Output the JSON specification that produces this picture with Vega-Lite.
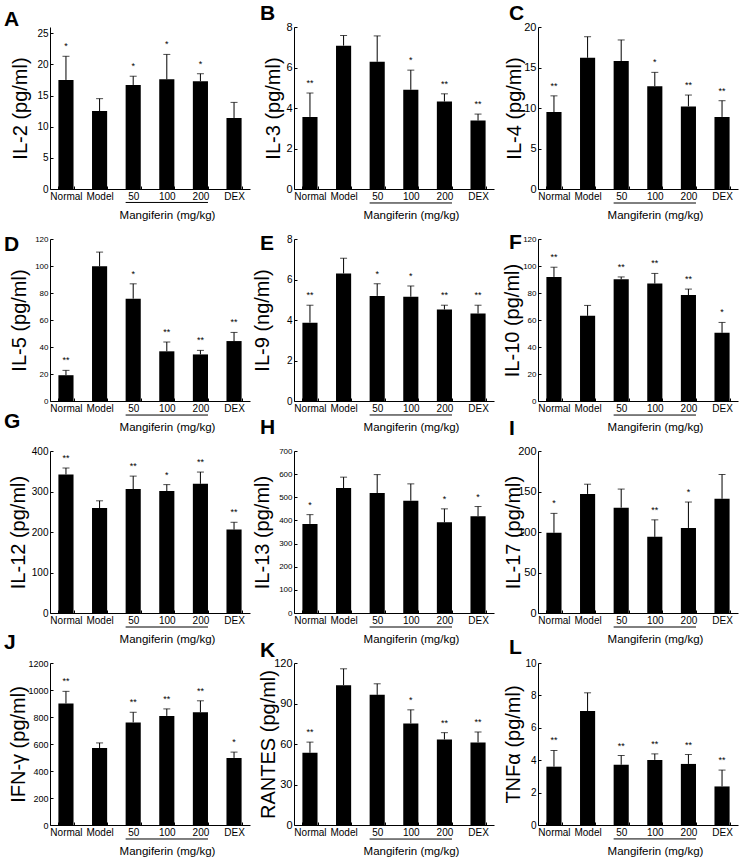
{
"$schema": "https://vega.github.io/schema/vega-lite/v6.json",
"padding": {"left": 4, "top": 3, "right": 5, "bottom": 3},
"background": "white",
"data": {"values": [
{"p":"A","g":"Normal","v":17.5,"hi":21.3,"s":"*"},
{"p":"A","g":"Model","v":12.5,"hi":14.5,"s":""},
{"p":"A","g":"50","v":16.7,"hi":18.1,"s":"*"},
{"p":"A","g":"100","v":17.6,"hi":21.6,"s":"*"},
{"p":"A","g":"200","v":17.3,"hi":18.5,"s":"*"},
{"p":"A","g":"DEX","v":11.4,"hi":13.9,"s":""},
{"p":"B","g":"Normal","v":3.56,"hi":4.74,"s":"**"},
{"p":"B","g":"Model","v":7.08,"hi":7.58,"s":""},
{"p":"B","g":"50","v":6.28,"hi":7.56,"s":""},
{"p":"B","g":"100","v":4.9,"hi":5.87,"s":"*"},
{"p":"B","g":"200","v":4.32,"hi":4.7,"s":"**"},
{"p":"B","g":"DEX","v":3.38,"hi":3.7,"s":"**"},
{"p":"C","g":"Normal","v":9.5,"hi":11.5,"s":"**"},
{"p":"C","g":"Model","v":16.2,"hi":18.8,"s":""},
{"p":"C","g":"50","v":15.8,"hi":18.4,"s":""},
{"p":"C","g":"100","v":12.7,"hi":14.4,"s":"*"},
{"p":"C","g":"200","v":10.2,"hi":11.6,"s":"**"},
{"p":"C","g":"DEX","v":8.9,"hi":10.9,"s":"**"},
{"p":"D","g":"Normal","v":19.1,"hi":22.7,"s":"**"},
{"p":"D","g":"Model","v":99.8,"hi":110.3,"s":""},
{"p":"D","g":"50","v":75.8,"hi":86.8,"s":"*"},
{"p":"D","g":"100","v":36.8,"hi":43.7,"s":"**"},
{"p":"D","g":"200","v":34.5,"hi":37.5,"s":"**"},
{"p":"D","g":"DEX","v":44.4,"hi":50.8,"s":"**"},
{"p":"E","g":"Normal","v":3.87,"hi":4.73,"s":"**"},
{"p":"E","g":"Model","v":6.3,"hi":7.05,"s":""},
{"p":"E","g":"50","v":5.19,"hi":5.79,"s":"*"},
{"p":"E","g":"100","v":5.15,"hi":5.68,"s":"*"},
{"p":"E","g":"200","v":4.52,"hi":4.73,"s":"**"},
{"p":"E","g":"DEX","v":4.32,"hi":4.73,"s":"**"},
{"p":"F","g":"Normal","v":91.9,"hi":99.1,"s":"**"},
{"p":"F","g":"Model","v":63.1,"hi":70.8,"s":""},
{"p":"F","g":"50","v":90.1,"hi":91.9,"s":"**"},
{"p":"F","g":"100","v":87.0,"hi":94.5,"s":"**"},
{"p":"F","g":"200","v":78.5,"hi":82.9,"s":"**"},
{"p":"F","g":"DEX","v":50.5,"hi":58.2,"s":"*"},
{"p":"G","g":"Normal","v":342,"hi":358,"s":"**"},
{"p":"G","g":"Model","v":259,"hi":277,"s":""},
{"p":"G","g":"50","v":306,"hi":338,"s":"**"},
{"p":"G","g":"100","v":301,"hi":317,"s":"*"},
{"p":"G","g":"200","v":319,"hi":348,"s":"**"},
{"p":"G","g":"DEX","v":206,"hi":224,"s":"**"},
{"p":"H","g":"Normal","v":385,"hi":425,"s":"*"},
{"p":"H","g":"Model","v":540,"hi":587,"s":""},
{"p":"H","g":"50","v":518,"hi":598,"s":""},
{"p":"H","g":"100","v":485,"hi":558,"s":""},
{"p":"H","g":"200","v":392,"hi":450,"s":"*"},
{"p":"H","g":"DEX","v":418,"hi":460,"s":"*"},
{"p":"I","g":"Normal","v":99,"hi":123,"s":"*"},
{"p":"I","g":"Model","v":147,"hi":159,"s":""},
{"p":"I","g":"50","v":130,"hi":153,"s":""},
{"p":"I","g":"100","v":94,"hi":115,"s":"**"},
{"p":"I","g":"200","v":105,"hi":137,"s":"*"},
{"p":"I","g":"DEX","v":141,"hi":171,"s":""},
{"p":"J","g":"Normal","v":900,"hi":990,"s":"**"},
{"p":"J","g":"Model","v":570,"hi":608,"s":""},
{"p":"J","g":"50","v":760,"hi":835,"s":"**"},
{"p":"J","g":"100","v":808,"hi":860,"s":"**"},
{"p":"J","g":"200","v":835,"hi":920,"s":"**"},
{"p":"J","g":"DEX","v":497,"hi":540,"s":"*"},
{"p":"K","g":"Normal","v":53.5,"hi":61.4,"s":"**"},
{"p":"K","g":"Model","v":103.6,"hi":115.7,"s":""},
{"p":"K","g":"50","v":96.4,"hi":104.6,"s":""},
{"p":"K","g":"100","v":75.2,"hi":85.3,"s":"*"},
{"p":"K","g":"200","v":63.4,"hi":68.4,"s":"**"},
{"p":"K","g":"DEX","v":61.2,"hi":68.9,"s":"**"},
{"p":"L","g":"Normal","v":3.6,"hi":4.6,"s":"**"},
{"p":"L","g":"Model","v":7.03,"hi":8.16,"s":""},
{"p":"L","g":"50","v":3.72,"hi":4.29,"s":"**"},
{"p":"L","g":"100","v":4.02,"hi":4.39,"s":"**"},
{"p":"L","g":"200","v":3.77,"hi":4.35,"s":"**"},
{"p":"L","g":"DEX","v":2.38,"hi":3.39,"s":"**"}
]},
"columns": 3,
"bounds": "flush",
"spacing": {"column": 44, "row": 50},
"concat": [
{"title": {"text": "A", "dx": -46, "dy": 7}, "width": 200, "height": 162,
 "transform": [{"filter": "datum.p === 'A'"}],
 "encoding": {"x": {"field": "g", "type": "nominal", "scale": {"domain": ["Normal","Model","50","100","200","DEX"], "paddingInner": 0.55, "paddingOuter": 0.25}, "axis": {"title": "Mangiferin (mg/kg)", "titleX": 117}}},
 "layer": [
  {"mark": {"type": "bar", "color": "black"}, "encoding": {"y": {"field": "v", "type": "quantitative", "scale": {"domain": [0, 25]}, "axis": {"title": "IL-2 (pg/ml)", "values": [0,5,10,15,20,25], "tickCount": 20, "labelOverlap": false, "titleX": -20, "labelFontSize": 10}}}},
  {"mark": {"type": "rule", "color": "black"}, "encoding": {"y": {"field": "v", "type": "quantitative"}, "y2": {"field": "hi"}}},
  {"mark": {"type": "tick", "color": "black", "size": 7, "thickness": 1}, "encoding": {"y": {"field": "hi", "type": "quantitative"}}},
  {"mark": {"type": "text", "baseline": "bottom", "dy": -5, "fontSize": 9, "color": "black"}, "encoding": {"y": {"field": "hi", "type": "quantitative"}, "text": {"field": "s"}}},
  {"transform": [{"filter": "datum.g === '50'"}], "mark": {"type": "rule", "color": "black"}, "encoding": {"x": {"datum": "50", "bandPosition": 0}, "x2": {"datum": "200", "bandPosition": 1}, "y": {"datum": -2.16}}}
 ]},
{"title": {"text": "B", "dx": -34, "dy": 7}, "width": 200, "height": 162,
 "transform": [{"filter": "datum.p === 'B'"}],
 "encoding": {"x": {"field": "g", "type": "nominal", "scale": {"domain": ["Normal","Model","50","100","200","DEX"], "paddingInner": 0.55, "paddingOuter": 0.25}, "axis": {"title": "Mangiferin (mg/kg)", "titleX": 117}}},
 "layer": [
  {"mark": {"type": "bar", "color": "black"}, "encoding": {"y": {"field": "v", "type": "quantitative", "scale": {"domain": [0, 8]}, "axis": {"title": "IL-3 (pg/ml)", "values": [0,2,4,6,8], "tickCount": 20, "labelOverlap": false, "titleX": -11, "labelFontSize": 11}}}},
  {"mark": {"type": "rule", "color": "black"}, "encoding": {"y": {"field": "v", "type": "quantitative"}, "y2": {"field": "hi"}}},
  {"mark": {"type": "tick", "color": "black", "size": 7, "thickness": 1}, "encoding": {"y": {"field": "hi", "type": "quantitative"}}},
  {"mark": {"type": "text", "baseline": "bottom", "dy": -5, "fontSize": 9, "color": "black"}, "encoding": {"y": {"field": "hi", "type": "quantitative"}, "text": {"field": "s"}}},
  {"transform": [{"filter": "datum.g === '50'"}], "mark": {"type": "rule", "color": "black"}, "encoding": {"x": {"datum": "50", "bandPosition": 0}, "x2": {"datum": "200", "bandPosition": 1}, "y": {"datum": -0.69}}}
 ]},
{"title": {"text": "C", "dx": -29, "dy": 7}, "width": 200, "height": 162,
 "transform": [{"filter": "datum.p === 'C'"}],
 "encoding": {"x": {"field": "g", "type": "nominal", "scale": {"domain": ["Normal","Model","50","100","200","DEX"], "paddingInner": 0.55, "paddingOuter": 0.25}, "axis": {"title": "Mangiferin (mg/kg)", "titleX": 117}}},
 "layer": [
  {"mark": {"type": "bar", "color": "black"}, "encoding": {"y": {"field": "v", "type": "quantitative", "scale": {"domain": [0, 20]}, "axis": {"title": "IL-4 (pg/ml)", "values": [0,5,10,15,20], "tickCount": 20, "labelOverlap": false, "titleX": -14, "labelFontSize": 11}}}},
  {"mark": {"type": "rule", "color": "black"}, "encoding": {"y": {"field": "v", "type": "quantitative"}, "y2": {"field": "hi"}}},
  {"mark": {"type": "tick", "color": "black", "size": 7, "thickness": 1}, "encoding": {"y": {"field": "hi", "type": "quantitative"}}},
  {"mark": {"type": "text", "baseline": "bottom", "dy": -5, "fontSize": 9, "color": "black"}, "encoding": {"y": {"field": "hi", "type": "quantitative"}, "text": {"field": "s"}}},
  {"transform": [{"filter": "datum.g === '50'"}], "mark": {"type": "rule", "color": "black"}, "encoding": {"x": {"datum": "50", "bandPosition": 0}, "x2": {"datum": "200", "bandPosition": 1}, "y": {"datum": -1.73}}}
 ]},
{"title": {"text": "D", "dx": -46, "dy": 24}, "width": 200, "height": 162,
 "transform": [{"filter": "datum.p === 'D'"}],
 "encoding": {"x": {"field": "g", "type": "nominal", "scale": {"domain": ["Normal","Model","50","100","200","DEX"], "paddingInner": 0.55, "paddingOuter": 0.25}, "axis": {"title": "Mangiferin (mg/kg)", "titleX": 117}}},
 "layer": [
  {"mark": {"type": "bar", "color": "black"}, "encoding": {"y": {"field": "v", "type": "quantitative", "scale": {"domain": [0, 120]}, "axis": {"title": "IL-5 (pg/ml)", "values": [0,20,40,60,80,100,120], "tickCount": 20, "labelOverlap": false, "titleX": -21, "labelFontSize": 8}}}},
  {"mark": {"type": "rule", "color": "black"}, "encoding": {"y": {"field": "v", "type": "quantitative"}, "y2": {"field": "hi"}}},
  {"mark": {"type": "tick", "color": "black", "size": 7, "thickness": 1}, "encoding": {"y": {"field": "hi", "type": "quantitative"}}},
  {"mark": {"type": "text", "baseline": "bottom", "dy": -5, "fontSize": 9, "color": "black"}, "encoding": {"y": {"field": "hi", "type": "quantitative"}, "text": {"field": "s"}}},
  {"transform": [{"filter": "datum.g === '50'"}], "mark": {"type": "rule", "color": "black"}, "encoding": {"x": {"datum": "50", "bandPosition": 0}, "x2": {"datum": "200", "bandPosition": 1}, "y": {"datum": -10.4}}}
 ]},
{"title": {"text": "E", "dx": -34, "dy": 24}, "width": 200, "height": 162,
 "transform": [{"filter": "datum.p === 'E'"}],
 "encoding": {"x": {"field": "g", "type": "nominal", "scale": {"domain": ["Normal","Model","50","100","200","DEX"], "paddingInner": 0.55, "paddingOuter": 0.25}, "axis": {"title": "Mangiferin (mg/kg)", "titleX": 117}}},
 "layer": [
  {"mark": {"type": "bar", "color": "black"}, "encoding": {"y": {"field": "v", "type": "quantitative", "scale": {"domain": [0, 8]}, "axis": {"title": "IL-9 (ng/ml)", "values": [0,2,4,6,8], "tickCount": 20, "labelOverlap": false, "titleX": -22, "labelFontSize": 10}}}},
  {"mark": {"type": "rule", "color": "black"}, "encoding": {"y": {"field": "v", "type": "quantitative"}, "y2": {"field": "hi"}}},
  {"mark": {"type": "tick", "color": "black", "size": 7, "thickness": 1}, "encoding": {"y": {"field": "hi", "type": "quantitative"}}},
  {"mark": {"type": "text", "baseline": "bottom", "dy": -5, "fontSize": 9, "color": "black"}, "encoding": {"y": {"field": "hi", "type": "quantitative"}, "text": {"field": "s"}}},
  {"transform": [{"filter": "datum.g === '50'"}], "mark": {"type": "rule", "color": "black"}, "encoding": {"x": {"datum": "50", "bandPosition": 0}, "x2": {"datum": "200", "bandPosition": 1}, "y": {"datum": -0.69}}}
 ]},
{"title": {"text": "F", "dx": -29, "dy": 22}, "width": 200, "height": 162,
 "transform": [{"filter": "datum.p === 'F'"}],
 "encoding": {"x": {"field": "g", "type": "nominal", "scale": {"domain": ["Normal","Model","50","100","200","DEX"], "paddingInner": 0.55, "paddingOuter": 0.25}, "axis": {"title": "Mangiferin (mg/kg)", "titleX": 117}}},
 "layer": [
  {"mark": {"type": "bar", "color": "black"}, "encoding": {"y": {"field": "v", "type": "quantitative", "scale": {"domain": [0, 120]}, "axis": {"title": "IL-10 (pg/ml)", "values": [0,20,40,60,80,100,120], "tickCount": 20, "labelOverlap": false, "titleX": -16, "labelFontSize": 8}}}},
  {"mark": {"type": "rule", "color": "black"}, "encoding": {"y": {"field": "v", "type": "quantitative"}, "y2": {"field": "hi"}}},
  {"mark": {"type": "tick", "color": "black", "size": 7, "thickness": 1}, "encoding": {"y": {"field": "hi", "type": "quantitative"}}},
  {"mark": {"type": "text", "baseline": "bottom", "dy": -5, "fontSize": 9, "color": "black"}, "encoding": {"y": {"field": "hi", "type": "quantitative"}, "text": {"field": "s"}}},
  {"transform": [{"filter": "datum.g === '50'"}], "mark": {"type": "rule", "color": "black"}, "encoding": {"x": {"datum": "50", "bandPosition": 0}, "x2": {"datum": "200", "bandPosition": 1}, "y": {"datum": -10.4}}}
 ]},
{"title": {"text": "G", "dx": -46, "dy": -10}, "width": 200, "height": 162,
 "transform": [{"filter": "datum.p === 'G'"}],
 "encoding": {"x": {"field": "g", "type": "nominal", "scale": {"domain": ["Normal","Model","50","100","200","DEX"], "paddingInner": 0.55, "paddingOuter": 0.25}, "axis": {"title": "Mangiferin (mg/kg)", "titleX": 117}}},
 "layer": [
  {"mark": {"type": "bar", "color": "black"}, "encoding": {"y": {"field": "v", "type": "quantitative", "scale": {"domain": [0, 400]}, "axis": {"title": "IL-12 (pg/ml)", "values": [0,100,200,300,400], "tickCount": 20, "labelOverlap": false, "titleX": -22, "labelFontSize": 10}}}},
  {"mark": {"type": "rule", "color": "black"}, "encoding": {"y": {"field": "v", "type": "quantitative"}, "y2": {"field": "hi"}}},
  {"mark": {"type": "tick", "color": "black", "size": 7, "thickness": 1}, "encoding": {"y": {"field": "hi", "type": "quantitative"}}},
  {"mark": {"type": "text", "baseline": "bottom", "dy": -5, "fontSize": 9, "color": "black"}, "encoding": {"y": {"field": "hi", "type": "quantitative"}, "text": {"field": "s"}}},
  {"transform": [{"filter": "datum.g === '50'"}], "mark": {"type": "rule", "color": "black"}, "encoding": {"x": {"datum": "50", "bandPosition": 0}, "x2": {"datum": "200", "bandPosition": 1}, "y": {"datum": -34.6}}}
 ]},
{"title": {"text": "H", "dx": -34, "dy": -5}, "width": 200, "height": 162,
 "transform": [{"filter": "datum.p === 'H'"}],
 "encoding": {"x": {"field": "g", "type": "nominal", "scale": {"domain": ["Normal","Model","50","100","200","DEX"], "paddingInner": 0.55, "paddingOuter": 0.25}, "axis": {"title": "Mangiferin (mg/kg)", "titleX": 117}}},
 "layer": [
  {"mark": {"type": "bar", "color": "black"}, "encoding": {"y": {"field": "v", "type": "quantitative", "scale": {"domain": [0, 700]}, "axis": {"title": "IL-13 (pg/ml)", "values": [0,100,200,300,400,500,600,700], "tickCount": 20, "labelOverlap": false, "titleX": -22, "labelFontSize": 8}}}},
  {"mark": {"type": "rule", "color": "black"}, "encoding": {"y": {"field": "v", "type": "quantitative"}, "y2": {"field": "hi"}}},
  {"mark": {"type": "tick", "color": "black", "size": 7, "thickness": 1}, "encoding": {"y": {"field": "hi", "type": "quantitative"}}},
  {"mark": {"type": "text", "baseline": "bottom", "dy": -5, "fontSize": 9, "color": "black"}, "encoding": {"y": {"field": "hi", "type": "quantitative"}, "text": {"field": "s"}}},
  {"transform": [{"filter": "datum.g === '50'"}], "mark": {"type": "rule", "color": "black"}, "encoding": {"x": {"datum": "50", "bandPosition": 0}, "x2": {"datum": "200", "bandPosition": 1}, "y": {"datum": -60.5}}}
 ]},
{"title": {"text": "I", "dx": -29, "dy": -2}, "width": 200, "height": 162,
 "transform": [{"filter": "datum.p === 'I'"}],
 "encoding": {"x": {"field": "g", "type": "nominal", "scale": {"domain": ["Normal","Model","50","100","200","DEX"], "paddingInner": 0.55, "paddingOuter": 0.25}, "axis": {"title": "Mangiferin (mg/kg)", "titleX": 117}}},
 "layer": [
  {"mark": {"type": "bar", "color": "black"}, "encoding": {"y": {"field": "v", "type": "quantitative", "scale": {"domain": [0, 200]}, "axis": {"title": "IL-17 (pg/ml)", "values": [0,50,100,150,200], "tickCount": 20, "labelOverlap": false, "titleX": -15, "labelFontSize": 11}}}},
  {"mark": {"type": "rule", "color": "black"}, "encoding": {"y": {"field": "v", "type": "quantitative"}, "y2": {"field": "hi"}}},
  {"mark": {"type": "tick", "color": "black", "size": 7, "thickness": 1}, "encoding": {"y": {"field": "hi", "type": "quantitative"}}},
  {"mark": {"type": "text", "baseline": "bottom", "dy": -5, "fontSize": 9, "color": "black"}, "encoding": {"y": {"field": "hi", "type": "quantitative"}, "text": {"field": "s"}}},
  {"transform": [{"filter": "datum.g === '50'"}], "mark": {"type": "rule", "color": "black"}, "encoding": {"x": {"datum": "50", "bandPosition": 0}, "x2": {"datum": "200", "bandPosition": 1}, "y": {"datum": -17.3}}}
 ]},
{"title": {"text": "J", "dx": -46, "dy": -2}, "width": 200, "height": 162,
 "transform": [{"filter": "datum.p === 'J'"}],
 "encoding": {"x": {"field": "g", "type": "nominal", "scale": {"domain": ["Normal","Model","50","100","200","DEX"], "paddingInner": 0.55, "paddingOuter": 0.25}, "axis": {"title": "Mangiferin (mg/kg)", "titleX": 117}}},
 "layer": [
  {"mark": {"type": "bar", "color": "black"}, "encoding": {"y": {"field": "v", "type": "quantitative", "scale": {"domain": [0, 1200]}, "axis": {"title": "IFN-γ (pg/ml)", "values": [0,200,400,600,800,1000,1200], "tickCount": 20, "labelOverlap": false, "titleX": -22, "labelFontSize": 9}}}},
  {"mark": {"type": "rule", "color": "black"}, "encoding": {"y": {"field": "v", "type": "quantitative"}, "y2": {"field": "hi"}}},
  {"mark": {"type": "tick", "color": "black", "size": 7, "thickness": 1}, "encoding": {"y": {"field": "hi", "type": "quantitative"}}},
  {"mark": {"type": "text", "baseline": "bottom", "dy": -5, "fontSize": 9, "color": "black"}, "encoding": {"y": {"field": "hi", "type": "quantitative"}, "text": {"field": "s"}}},
  {"transform": [{"filter": "datum.g === '50'"}], "mark": {"type": "rule", "color": "black"}, "encoding": {"x": {"datum": "50", "bandPosition": 0}, "x2": {"datum": "200", "bandPosition": 1}, "y": {"datum": -103.7}}}
 ]},
{"title": {"text": "K", "dx": -34, "dy": 10}, "width": 200, "height": 162,
 "transform": [{"filter": "datum.p === 'K'"}],
 "encoding": {"x": {"field": "g", "type": "nominal", "scale": {"domain": ["Normal","Model","50","100","200","DEX"], "paddingInner": 0.55, "paddingOuter": 0.25}, "axis": {"title": "Mangiferin (mg/kg)", "titleX": 117}}},
 "layer": [
  {"mark": {"type": "bar", "color": "black"}, "encoding": {"y": {"field": "v", "type": "quantitative", "scale": {"domain": [0, 120]}, "axis": {"title": "RANTES (pg/ml)", "values": [0,30,60,90,120], "tickCount": 20, "labelOverlap": false, "titleX": -16, "labelFontSize": 11}}}},
  {"mark": {"type": "rule", "color": "black"}, "encoding": {"y": {"field": "v", "type": "quantitative"}, "y2": {"field": "hi"}}},
  {"mark": {"type": "tick", "color": "black", "size": 7, "thickness": 1}, "encoding": {"y": {"field": "hi", "type": "quantitative"}}},
  {"mark": {"type": "text", "baseline": "bottom", "dy": -5, "fontSize": 9, "color": "black"}, "encoding": {"y": {"field": "hi", "type": "quantitative"}, "text": {"field": "s"}}},
  {"transform": [{"filter": "datum.g === '50'"}], "mark": {"type": "rule", "color": "black"}, "encoding": {"x": {"datum": "50", "bandPosition": 0}, "x2": {"datum": "200", "bandPosition": 1}, "y": {"datum": -10.4}}}
 ]},
{"title": {"text": "L", "dx": -29, "dy": 4}, "width": 200, "height": 162,
 "transform": [{"filter": "datum.p === 'L'"}],
 "encoding": {"x": {"field": "g", "type": "nominal", "scale": {"domain": ["Normal","Model","50","100","200","DEX"], "paddingInner": 0.55, "paddingOuter": 0.25}, "axis": {"title": "Mangiferin (mg/kg)", "titleX": 117}}},
 "layer": [
  {"mark": {"type": "bar", "color": "black"}, "encoding": {"y": {"field": "v", "type": "quantitative", "scale": {"domain": [0, 10]}, "axis": {"title": "TNFα (pg/ml)", "values": [0,2,4,6,8,10], "tickCount": 20, "labelOverlap": false, "titleX": -15, "labelFontSize": 10}}}},
  {"mark": {"type": "rule", "color": "black"}, "encoding": {"y": {"field": "v", "type": "quantitative"}, "y2": {"field": "hi"}}},
  {"mark": {"type": "tick", "color": "black", "size": 7, "thickness": 1}, "encoding": {"y": {"field": "hi", "type": "quantitative"}}},
  {"mark": {"type": "text", "baseline": "bottom", "dy": -5, "fontSize": 9, "color": "black"}, "encoding": {"y": {"field": "hi", "type": "quantitative"}, "text": {"field": "s"}}},
  {"transform": [{"filter": "datum.g === '50'"}], "mark": {"type": "rule", "color": "black"}, "encoding": {"x": {"datum": "50", "bandPosition": 0}, "x2": {"datum": "200", "bandPosition": 1}, "y": {"datum": -0.86}}}
 ]}
],
"config": {
 "view": {"stroke": null},
 "font": "Liberation Sans",
 "axis": {"grid": false, "domainColor": "black", "tickColor": "black", "labelColor": "black", "titleColor": "black", "labelFont": "Liberation Sans", "titleFont": "Liberation Sans", "titleFontWeight": "normal", "labelOverlap": false},
 "axisX": {"labelAngle": 0, "labelFontSize": 10, "titleFontSize": 11.5, "tickBand": "extent", "tickSize": -3, "labelPadding": 5, "titlePadding": 8},
 "axisY": {"titleFontSize": 20, "tickSize": -3, "labelPadding": 5, "format": "d", "labelOverlap": false},
 "title": {"fontSize": 21, "fontWeight": "bold", "anchor": "start", "frame": "group", "offset": 0, "color": "black", "font": "Liberation Sans"}
}
}
